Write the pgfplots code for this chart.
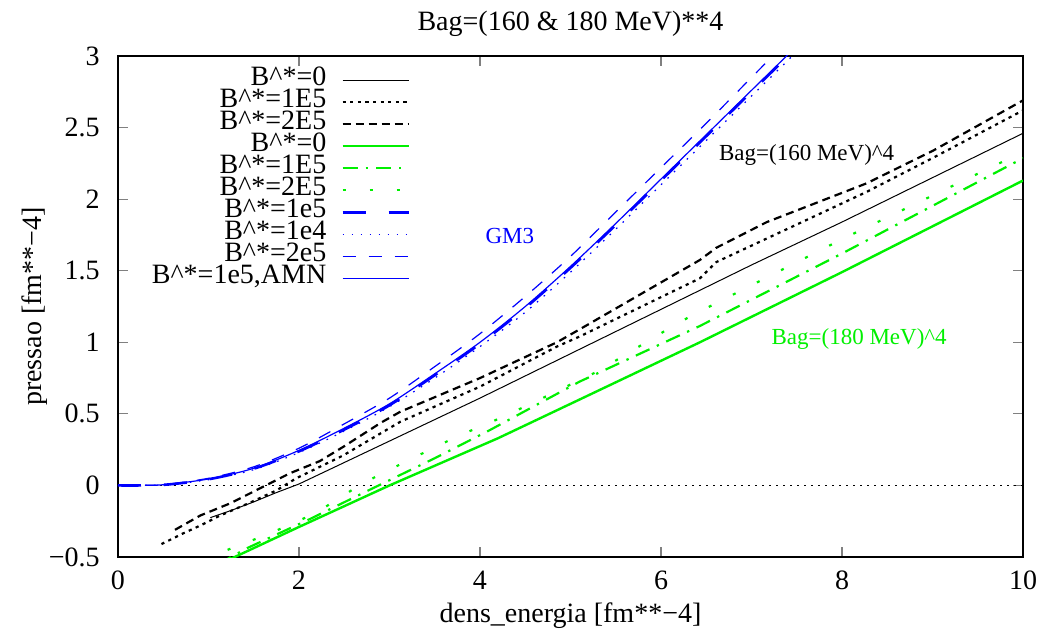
\documentclass[border=0pt]{standalone}
\usepackage{fontspec}
\setmainfont{Liberation Serif}
\usepackage{pgfplots}
\pgfplotsset{compat=1.18}
\definecolor{gpgreen}{HTML}{00F000}
\begin{document}
\begin{tikzpicture}
\useasboundingbox (-59pt,-38pt) rectangle (464pt,278.5pt);
\begin{axis}[
  scale only axis,
  width=452.5pt, height=250.5pt,
  xmin=0, xmax=10, ymin=-0.5, ymax=3,
  xtick={0,2,4,6,8,10},
  xticklabels={0,2,4,6,8,10},
  ytick={-0.5,0,0.5,1,1.5,2,2.5,3},
  yticklabels={−0.5,0,0.5,1,1.5,2,2.5,3},
  tick align=inside,
  major tick length=5pt,
  axis line style={line width=0.75pt},
  major tick style={line width=0.6pt},
  font=\fontsize{14}{16}\selectfont,
  xticklabel style={anchor=base, inner sep=0pt, yshift=-16.5pt},
  yticklabel style={anchor=east, inner sep=0pt, xshift=-9pt},
  title={Bag=(160 \& 180 MeV)**4},
  title style={at={(0.5,1)}, anchor=base, inner sep=0pt, yshift=6.5pt},
  xlabel={dens\_energia [fm**−4]},
  xlabel style={at={(0.5,0)}, anchor=base, inner sep=0pt, yshift=-32.5pt},
  ylabel={pressao [fm**−4]},
  ylabel style={at={(-0.084,0.5)}, anchor=base, inner sep=0pt},
  legend plot pos=right,
  legend cell align=right,
  legend image code/.code={\draw[#1] (0pt,0pt) -- (33pt,0pt);},
  legend style={draw=none, fill=none, at={(axis cs:3.23,2.91)}, anchor=north east,
    row sep=0pt, inner sep=0pt,
    nodes={inner sep=0pt, text height=8pt, text depth=3pt},
    /tikz/every odd column/.style={column sep=7.5pt}},
]
% y = 0 reference line
\addplot[black, line width=0.5pt, dash pattern=on 1pt off 2.5pt, forget plot]
  coordinates {(0,0) (10,0)};

% Bag = (160 MeV)^4
\addplot[black, line width=0.5pt] coordinates {
 (1.02,-0.225) (1.25,-0.175) (1.5,-0.115) (1.75,-0.05) (2.0,0.01) (2.5,0.16)
 (3.0,0.31) (3.5,0.46) (4.0,0.61) (5.0,0.92) (6.0,1.23) (7.0,1.54)
 (8.0,1.84) (9.0,2.15) (10.0,2.46)};
\addlegendentry{B\textasciicircum*=0}
\addplot[black, line width=1.1pt, dash pattern=on 1.6pt off 2.2pt] coordinates {
 (0.48,-0.41) (0.72,-0.335) (0.92,-0.277) (1.13,-0.21) (1.46,-0.12) (1.75,-0.035)
 (1.97,0.05) (2.49,0.21) (3.12,0.445) (4.0,0.69) (4.85,0.97) (5.10,1.04)
 (6.43,1.447) (6.61,1.56) (8.27,2.05) (9.01,2.29) (10,2.62)};
\addlegendentry{B\textasciicircum*=1E5}
\addplot[black, line width=1.1pt, dash pattern=on 4pt off 2.5pt] coordinates {
 (0.63,-0.31) (0.91,-0.21) (1.24,-0.125) (1.57,-0.02) (1.90,0.085) (2.23,0.17)
 (2.49,0.27) (2.91,0.44) (3.12,0.515) (4.0,0.75) (4.85,1.0) (5.10,1.09)
 (6.43,1.575) (6.61,1.66) (7.17,1.84) (8.27,2.11) (9.01,2.34) (10,2.69)};
\addlegendentry{B\textasciicircum*=2E5}

% Bag = (180 MeV)^4
\addplot[gpgreen, line width=1.2pt] coordinates {
 (1.05,-0.57) (1.29,-0.5) (2.0,-0.29) (3.0,0.0) (4.2,0.33) (5.1,0.60)
 (6.43,1.00) (8,1.49) (10,2.13)};
\addlegendentry{B\textasciicircum*=0}
\addplot[gpgreen, line width=1.1pt, dash pattern=on 7.5pt off 4pt on 1.2pt off 4pt] coordinates {
 (1.1,-0.55) (1.25,-0.5) (1.42,-0.44) (2.12,-0.235) (2.75,-0.04) (3.5,0.19)
 (4.11,0.387) (5.1,0.725) (6.43,1.114) (8,1.62) (10,2.286)};
\addlegendentry{B\textasciicircum*=1E5}
\addplot[gpgreen, line width=1.1pt, dash pattern=on 1.5pt off 12pt] coordinates {
 (0.95,-0.54) (1.13,-0.47) (1.68,-0.335) (2.18,-0.195) (2.69,0.01) (3.19,0.17)
 (3.74,0.34) (4.26,0.48) (4.79,0.64) (5.31,0.80) (6.06,1.086) (6.32,1.18)
 (8,1.72) (10,2.33)};
\addlegendentry{B\textasciicircum*=2E5}

% GM3
\addplot[draw=blue, line width=1.3pt, dash pattern=on 11.5pt off 11.5pt, smooth] coordinates {
 (0,0) (0.5,0.004) (1.0,0.043) (1.5,0.117) (2.0,0.238) (2.5,0.39) (3.0,0.56)
 (3.5,0.77) (4.0,0.99) (4.5,1.24) (5.0,1.52) (5.5,1.82) (6.0,2.13) (6.5,2.44)
 (7.0,2.75) (7.5,3.06)};
\addlegendentry{B\textasciicircum*=1e5}
\addplot[draw=blue, line width=0.6pt, dash pattern=on 0.8pt off 3.7pt, smooth] coordinates {
 (0,0) (0.5,0.004) (1.0,0.04) (1.5,0.11) (2.0,0.23) (2.5,0.38) (3.0,0.55)
 (3.5,0.75) (4.0,0.97) (4.5,1.21) (5.0,1.49) (5.5,1.79) (6.0,2.10) (6.5,2.41)
 (7.0,2.72) (7.5,3.03)};
\addlegendentry{B\textasciicircum*=1e4}
\addplot[draw=blue, line width=0.6pt, dash pattern=on 6.5pt off 6.5pt, smooth] coordinates {
 (0.3,0.002) (0.5,0.005) (1.0,0.05) (1.5,0.13) (2.0,0.26) (2.5,0.43) (3.0,0.61)
 (3.5,0.83) (4.0,1.06) (4.5,1.32) (5.0,1.60) (5.5,1.91) (6.0,2.22) (6.5,2.53)
 (7.0,2.85) (7.5,3.17)};
\addlegendentry{B\textasciicircum*=2e5}
\addplot[draw=blue, line width=0.6pt, smooth] coordinates {
 (0.3,0.002) (0.5,0.005) (1.0,0.045) (1.5,0.12) (2.0,0.245) (2.5,0.40) (3.0,0.57)
 (3.5,0.78) (4.0,1.0) (4.5,1.25) (5.0,1.53) (5.5,1.83) (6.0,2.14) (6.5,2.45)
 (7.0,2.76) (7.5,3.07)};
\addlegendentry{B\textasciicircum*=1e5,AMN}

\node[blue, font=\fontsize{11.5}{13}\selectfont] at (axis cs:4.33,1.74) {GM3};
\node[black, font=\fontsize{11.5}{13}\selectfont] at (axis cs:7.61,2.31) {Bag=(160 MeV)\textasciicircum 4};
\node[gpgreen, font=\fontsize{11.5}{13}\selectfont] at (axis cs:8.19,1.02) {Bag=(180 MeV)\textasciicircum 4};
\end{axis}
\end{tikzpicture}
\end{document}
